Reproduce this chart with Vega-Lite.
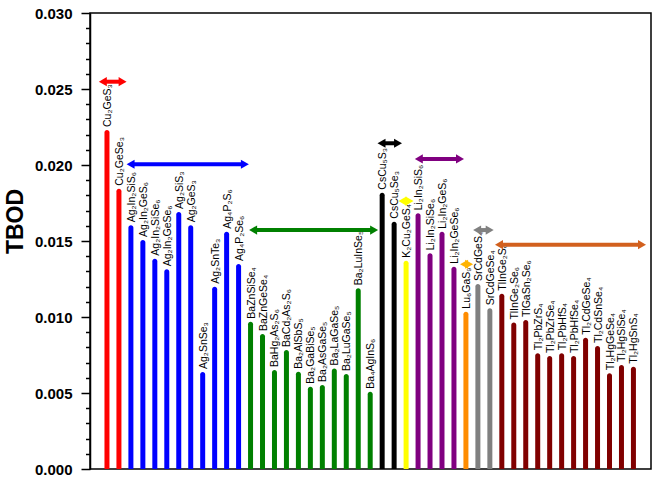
{
  "$schema": "https://vega.github.io/schema/vega-lite/v6.json",
  "width": 561,
  "height": 456,
  "autosize": "none",
  "padding": {"left": 90, "top": 13, "right": 9, "bottom": 9},
  "background": "white",
  "config": {
    "view": {"stroke": "black", "strokeWidth": 1.5},
    "font": "Liberation Sans"
  },
  "resolve": {"axis": {"y": "independent"}},
  "datasets": {
    "bars": [
      {"i": 1, "name": "Cu₂GeS₃", "g": "Cu", "v": 0.0223},
      {"i": 2, "name": "Cu₂GeSe₃", "g": "Cu", "v": 0.01844},
      {"i": 3, "name": "Ag₂In₂SiS₆", "g": "Ag", "v": 0.01603},
      {"i": 4, "name": "Ag₂In₂GeS₆", "g": "Ag", "v": 0.01507},
      {"i": 5, "name": "Ag₂In₂SiSe₆", "g": "Ag", "v": 0.01384},
      {"i": 6, "name": "Ag₂In₂GeSe₆", "g": "Ag", "v": 0.01314},
      {"i": 7, "name": "Ag₂SiS₃", "g": "Ag", "v": 0.01691},
      {"i": 8, "name": "Ag₂GeS₃", "g": "Ag", "v": 0.01603},
      {"i": 9, "name": "Ag₂SnSe₃", "g": "Ag", "v": 0.00638},
      {"i": 10, "name": "Ag₂SnTe₃", "g": "Ag", "v": 0.01199},
      {"i": 11, "name": "Ag₄P₂S₆", "g": "Ag", "v": 0.01561},
      {"i": 12, "name": "Ag₄P₂Se₆", "g": "Ag", "v": 0.01349},
      {"i": 13, "name": "BaZnSiSe₄", "g": "Ba", "v": 0.00969},
      {"i": 14, "name": "BaZnGeSe₄", "g": "Ba", "v": 0.00888},
      {"i": 15, "name": "BaHg₂As₂S₆", "g": "Ba", "v": 0.00651},
      {"i": 16, "name": "BaCd₂As₂S₆", "g": "Ba", "v": 0.00783},
      {"i": 17, "name": "Ba₂AlSbS₅", "g": "Ba", "v": 0.0064},
      {"i": 18, "name": "Ba₂GaBiSe₅", "g": "Ba", "v": 0.00541},
      {"i": 19, "name": "Ba₂AsGaSe₅", "g": "Ba", "v": 0.00553},
      {"i": 20, "name": "Ba₂LaGaSe₅", "g": "Ba", "v": 0.00662},
      {"i": 21, "name": "Ba₂LuGaSe₅", "g": "Ba", "v": 0.00625},
      {"i": 22, "name": "Ba₂LuInSe₅", "g": "Ba", "v": 0.01189},
      {"i": 23, "name": "Ba₄AgInS₆", "g": "Ba", "v": 0.00509},
      {"i": 24, "name": "CsCu₅S₃", "g": "Cs", "v": 0.01818},
      {"i": 25, "name": "CsCu₅Se₃", "g": "Cs", "v": 0.01627},
      {"i": 26, "name": "K₂Cu₂GeS₄", "g": "K", "v": 0.0137},
      {"i": 27, "name": "Li₂In₂SiS₆", "g": "Li", "v": 0.01682},
      {"i": 28, "name": "Li₂In₂SiSe₆", "g": "Li", "v": 0.01419},
      {"i": 29, "name": "Li₂In₂GeS₆", "g": "Li", "v": 0.01561},
      {"i": 30, "name": "Li₂In₂GeSe₆", "g": "Li", "v": 0.01331},
      {"i": 31, "name": "Lu₆GaS₉", "g": "Lu", "v": 0.01035},
      {"i": 32, "name": "SrCdGeS₄", "g": "Sr", "v": 0.01217},
      {"i": 33, "name": "SrCdGeSe₄", "g": "Sr", "v": 0.01057},
      {"i": 34, "name": "TlInGe₂S₆", "g": "Tl", "v": 0.01153},
      {"i": 35, "name": "TlInGe₂Se₆", "g": "Tl", "v": 0.00963},
      {"i": 36, "name": "TlGaSn₂Se₆", "g": "Tl", "v": 0.0098},
      {"i": 37, "name": "Tl₂PbZrS₄", "g": "Tl", "v": 0.00761},
      {"i": 38, "name": "Tl₂PbZrSe₄", "g": "Tl", "v": 0.00743},
      {"i": 39, "name": "Tl₂PbHfS₄", "g": "Tl", "v": 0.00761},
      {"i": 40, "name": "Tl₂PbHfSe₄", "g": "Tl", "v": 0.00743},
      {"i": 41, "name": "Tl₂CdGeSe₄", "g": "Tl", "v": 0.00864},
      {"i": 42, "name": "Tl₂CdSnSe₄", "g": "Tl", "v": 0.00809},
      {"i": 43, "name": "Tl₂HgGeSe₄", "g": "Tl", "v": 0.0063},
      {"i": 44, "name": "Tl₂HgSiSe₄", "g": "Tl", "v": 0.00684},
      {"i": 45, "name": "Tl₂HgSnS₄", "g": "Tl", "v": 0.00673}
    ],
    "arrows": [
      {"g": "Cu", "x1": 0.32, "x2": 2.64, "y": 0.02548},
      {"g": "Ag", "x1": 2.64, "x2": 12.86, "y": 0.02005},
      {"g": "Ba", "x1": 12.88, "x2": 23.66, "y": 0.01572},
      {"g": "Cs", "x1": 23.61, "x2": 25.66, "y": 0.02143},
      {"g": "K", "x1": 25.36, "x2": 26.62, "y": 0.01763},
      {"g": "Li", "x1": 26.73, "x2": 30.84, "y": 0.0204},
      {"g": "Lu arrow", "x1": 30.51, "x2": 31.6, "y": 0.01347},
      {"g": "Sr", "x1": 31.6, "x2": 33.32, "y": 0.01572},
      {"g": "Tl arrow", "x1": 33.43, "x2": 46.05, "y": 0.01476}
    ]
  },
  "encoding": {
    "color": {
      "field": "g",
      "type": "nominal",
      "legend": null,
      "scale": {
        "domain": ["Cu", "Ag", "Ba", "Cs", "K", "Li", "Lu", "Sr", "Tl", "Lu arrow", "Tl arrow"],
        "range": ["#FF0000", "#0000FF", "#008000", "#000000", "#FFFF00", "#800080", "#FF8C00", "#808080", "#800000", "#FFB300", "#D2601E"]
      }
    }
  },
  "layer": [
    {
      "data": {"name": "bars"},
      "mark": {"type": "bar", "orient": "vertical", "size": 5, "cornerRadiusTopLeft": 2.5, "cornerRadiusTopRight": 2.5},
      "encoding": {
        "x": {"field": "i", "type": "quantitative", "scale": {"domain": [0, 46.05], "nice": false, "zero": false}, "axis": null},
        "y": {
          "field": "v", "type": "quantitative", "stack": null,
          "scale": {"domain": [0, 0.03], "nice": false},
          "axis": {
            "orient": "left",
            "values": [0, 0.005, 0.01, 0.015, 0.02, 0.025, 0.03],
            "format": ".3f",
            "tickSize": 9,
            "tickColor": "black",
            "tickWidth": 1.5,
            "domainColor": "black",
            "domainWidth": 1.5,
            "grid": false,
            "labelOverlap": false,
            "labelFlush": false,
            "labelBound": false,
            "labelFont": "Liberation Sans",
            "labelFontWeight": "bold",
            "labelFontSize": 15,
            "labelColor": "black",
            "labelPadding": 9,
            "title": "TBOD",
            "titleFont": "Liberation Sans",
            "titleFontSize": 23,
            "titleFontWeight": "bold",
            "titleColor": "black",
            "titleX": -63,
            "titleY": 208
          }
        }
      }
    },
    {
      "data": {"name": "bars"},
      "mark": {"type": "text", "angle": 270, "align": "left", "baseline": "middle", "dx": 3, "dy": 1, "fontSize": 10.5, "font": "Liberation Sans", "color": "black"},
      "encoding": {
        "x": {"field": "i", "type": "quantitative"},
        "y": {
          "field": "v", "type": "quantitative",
          "axis": {
            "orient": "left",
            "values": [0.001, 0.002, 0.003, 0.004, 0.006, 0.007, 0.008, 0.009, 0.011, 0.012, 0.013, 0.014, 0.016, 0.017, 0.018, 0.019, 0.021, 0.022, 0.023, 0.024, 0.026, 0.027, 0.028, 0.029],
            "labels": false,
            "domain": false,
            "grid": false,
            "tickSize": 4.5,
            "tickColor": "black",
            "tickWidth": 1.5,
            "title": null
          }
        },
        "text": {"field": "name", "type": "nominal"},
        "color": {"value": "black"}
      }
    },
    {
      "data": {"name": "arrows"},
      "mark": {"type": "rule", "strokeWidth": 4, "xOffset": 5, "x2Offset": -5},
      "encoding": {
        "x": {"field": "x1", "type": "quantitative"},
        "x2": {"field": "x2"},
        "y": {"field": "y", "type": "quantitative", "axis": null}
      }
    },
    {
      "data": {"name": "arrows"},
      "mark": {"type": "point", "shape": "triangle-left", "filled": true, "opacity": 1, "size": 85, "xOffset": 4, "strokeWidth": 0},
      "encoding": {
        "x": {"field": "x1", "type": "quantitative"},
        "y": {"field": "y", "type": "quantitative", "axis": null}
      }
    },
    {
      "data": {"name": "arrows"},
      "mark": {"type": "point", "shape": "triangle-right", "filled": true, "opacity": 1, "size": 85, "xOffset": -4, "strokeWidth": 0},
      "encoding": {
        "x": {"field": "x2", "type": "quantitative"},
        "y": {"field": "y", "type": "quantitative", "axis": null}
      }
    }
  ]
}
